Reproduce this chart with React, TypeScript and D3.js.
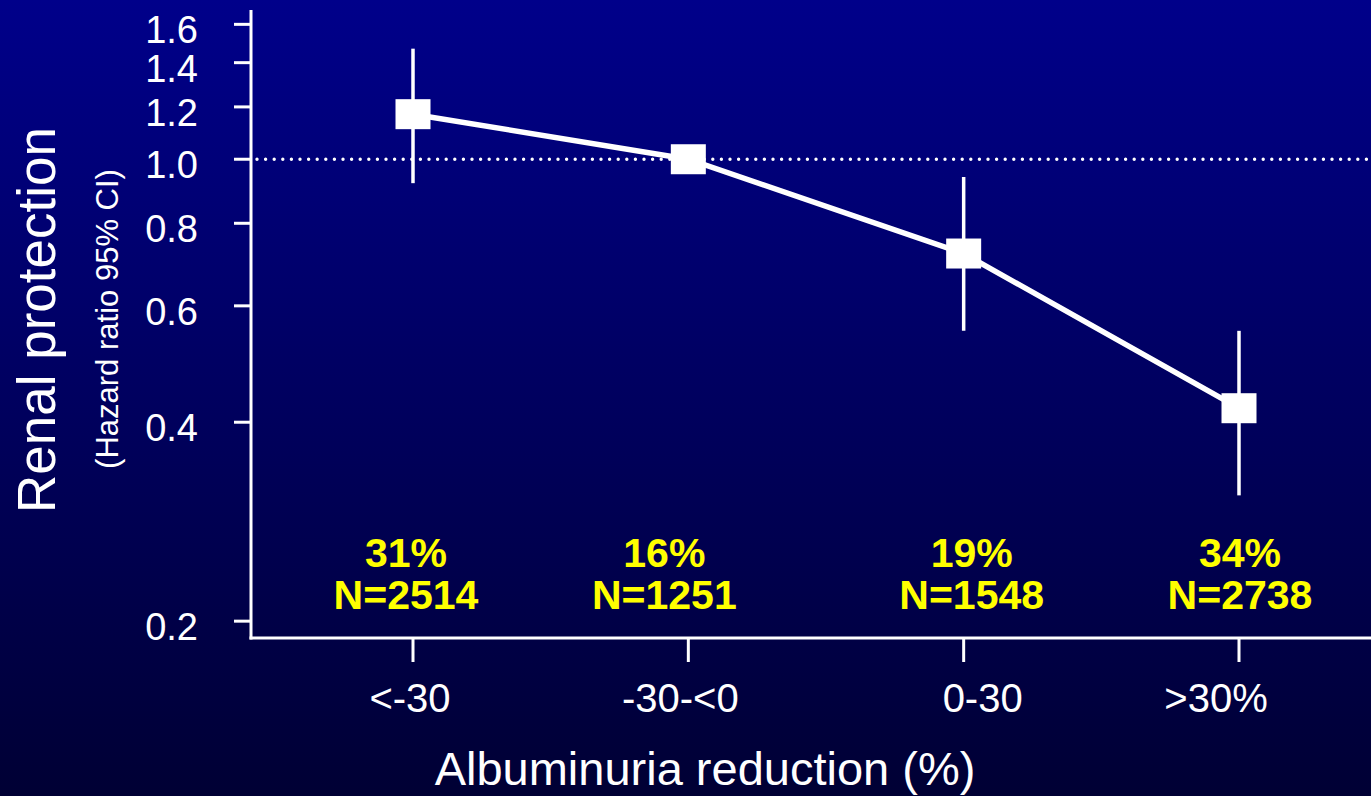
import React from "react";
import * as d3 from "d3";

// Albuminuria reduction groups and renal hazard ratios (95% CI)
const categories = ["<-30", "-30-<0", "0-30", ">30%"];
const hazardRatio = [1.17, 1.0, 0.72, 0.42];
const ciLower: (number | null)[] = [0.92, null, 0.55, 0.31];
const ciUpper: (number | null)[] = [1.47, null, 0.94, 0.55];
const shareLabels = ["31%", "16%", "19%", "34%"];
const groupN = [2514, 1251, 1548, 2738];
const yTicks = [0.2, 0.4, 0.6, 0.8, 1.0, 1.2, 1.4, 1.6];

// Hand-placed horizontal nudges for the category and group labels
const categoryLabelNudge = [-3, -8, 19, -23];
const groupLabelNudge = [-7, -24, 8, 1];

const W = 1371;
const H = 796;
const FONT = "'Liberation Sans', Arial, Helvetica, sans-serif";

export default function App() {
  const axisX = 251;
  const axisY = 638;

  const y = d3.scaleLog().domain([0.1886, 1.682]).range([axisY, 10]);
  const x = d3.scaleLinear().domain([0, categories.length - 1]).range([413, 1239]);

  const line = d3
    .line<number>()
    .x((_, i) => x(i))
    .y((d) => y(d));

  const boxW = 35;
  const boxH = 30;

  return (
    <svg
      width={W}
      height={H}
      style={{ position: "absolute", left: 0, top: 0, display: "block" }}
      fontFamily={FONT}
    >
      <defs>
        <linearGradient id="bg" x1="0" y1="0" x2="0" y2="1">
          <stop offset="0%" stopColor="#00008a" />
          <stop offset="100%" stopColor="#000034" />
        </linearGradient>
      </defs>
      <rect x={0} y={0} width={W} height={H} fill="url(#bg)" />

      {/* reference line at HR = 1 */}
      <line
        x1={axisX + 6}
        x2={W}
        y1={y(1)}
        y2={y(1)}
        stroke="#fff"
        strokeWidth={3.4}
        strokeLinecap="round"
        strokeDasharray="0 8.6"
      />

      {/* axes */}
      <line x1={axisX} x2={axisX} y1={10} y2={axisY + 1.5} stroke="#fff" strokeWidth={3} />
      <line x1={axisX - 1.5} x2={W} y1={axisY} y2={axisY} stroke="#fff" strokeWidth={3} />

      {yTicks.map((t) => (
        <g key={t}>
          <line x1={axisX - 17} x2={axisX} y1={y(t)} y2={y(t)} stroke="#fff" strokeWidth={3} />
          <text
            x={198}
            y={y(t) + 19}
            textAnchor="end"
            fill="#fff"
            fontSize={38}
          >
            {t.toFixed(1)}
          </text>
        </g>
      ))}

      {categories.map((c, i) => (
        <g key={c}>
          <line x1={x(i)} x2={x(i)} y1={axisY} y2={axisY + 24} stroke="#fff" strokeWidth={3} />
          <text
            x={x(i) + categoryLabelNudge[i]}
            y={712}
            textAnchor="middle"
            fill="#fff"
            fontSize={40}
          >
            {c}
          </text>
        </g>
      ))}

      {/* axis titles */}
      <text x={705} y={785} textAnchor="middle" fill="#fff" fontSize={47}>
        Albuminuria reduction (%)
      </text>
      <text
        transform="translate(55,320) rotate(-90)"
        textAnchor="middle"
        fill="#fff"
        fontSize={53}
      >
        Renal protection
      </text>
      <text
        transform="translate(118,319) rotate(-90)"
        textAnchor="middle"
        fill="#fff"
        fontSize={31}
      >
        (Hazard ratio 95% CI)
      </text>

      {/* confidence intervals */}
      {hazardRatio.map((_, i) =>
        ciLower[i] != null && ciUpper[i] != null ? (
          <line
            key={`ci-${i}`}
            x1={x(i)}
            x2={x(i)}
            y1={y(ciUpper[i] as number)}
            y2={y(ciLower[i] as number)}
            stroke="#fff"
            strokeWidth={3.5}
          />
        ) : null
      )}

      {/* trend line */}
      <path d={line(hazardRatio) || ""} fill="none" stroke="#fff" strokeWidth={5.5} />

      {/* point estimates */}
      {hazardRatio.map((v, i) => (
        <rect
          key={`pt-${i}`}
          x={x(i) - boxW / 2}
          y={y(v) - boxH / 2}
          width={boxW}
          height={boxH}
          fill="#fff"
        />
      ))}

      {/* group share and size */}
      {shareLabels.map((s, i) => (
        <g key={`lab-${i}`} fill="#ffff00" fontWeight="bold" fontSize={41} textAnchor="middle">
          <text x={x(i) + groupLabelNudge[i]} y={567}>
            {s}
          </text>
          <text x={x(i) + groupLabelNudge[i]} y={609}>
            {`N=${groupN[i]}`}
          </text>
        </g>
      ))}
    </svg>
  );
}
